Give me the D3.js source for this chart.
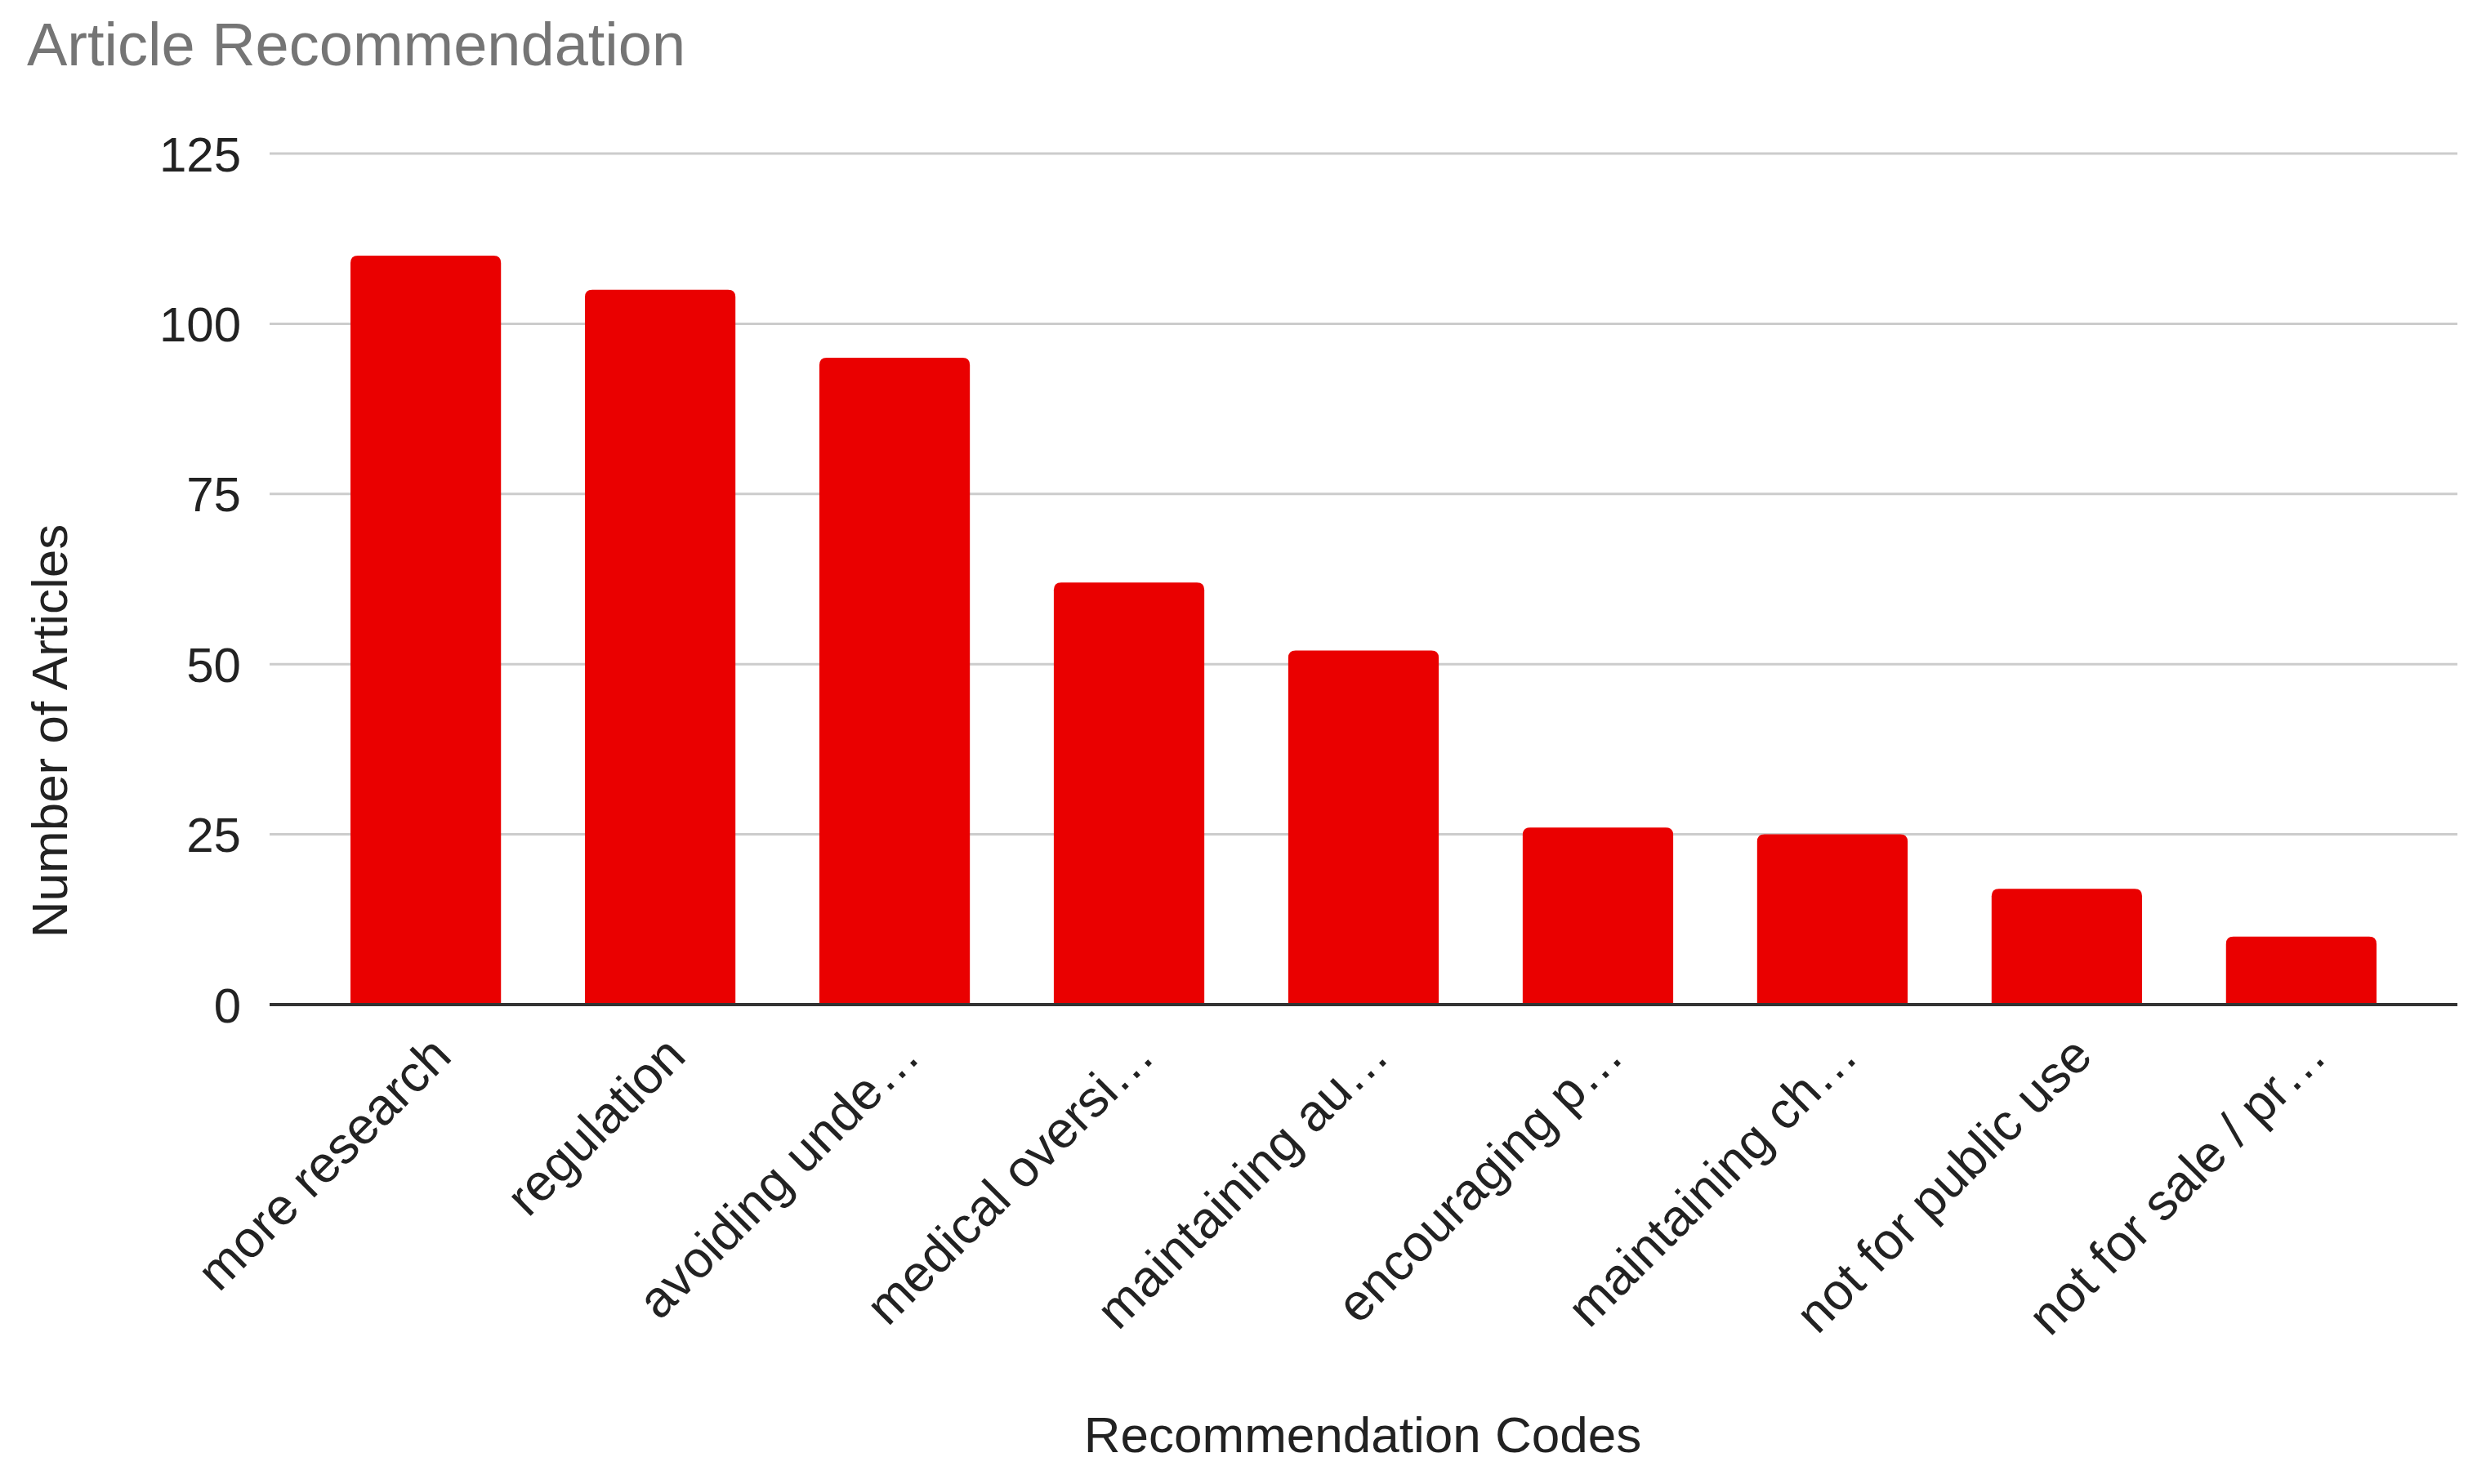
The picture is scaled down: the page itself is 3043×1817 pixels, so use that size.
<!DOCTYPE html>
<html><head><meta charset="utf-8">
<script src="https://cdn.jsdelivr.net/npm/d3@7"></script>
<style>html,body{margin:0;padding:0;background:#fff}svg{display:block}</style>
</head><body>
<script>
const categories = ["more research","regulation","avoiding unde…","medical oversi…","maintaining au…","encouraging p…","maintaining ch…","not for public use","not for sale / pr…"];
const values = [110,105,95,62,52,26,25,17,10];
const yTicks = [0,25,50,75,100,125];
const titleText = "Article Recommendation";
const xTitle = "Recommendation Codes";
const yTitle = "Number of Articles";

(function(){
const W = 3043, H = 1817;
const mLeft = 330, mRight = 3008, mTop = 188, mBottom = 1230;
const font = "'Liberation Sans', Arial, sans-serif";

const svg = d3.select("body").append("svg").attr("width", W).attr("height", H);

const x = d3.scaleBand().domain(categories).range([mLeft, mRight]).paddingInner(0.358).paddingOuter(0.345);
const y = d3.scaleLinear().domain([0,125]).range([mBottom, mTop]);

svg.append("text").attr("x", 33).attr("y", 80).attr("font-family", font).attr("font-size", 74)
  .attr("fill", "#757575").text(titleText);

svg.append("g").selectAll("line").data(yTicks.filter(d=>d>0)).join("line")
  .attr("x1", mLeft).attr("x2", mRight).attr("y1", d=>y(d)).attr("y2", d=>y(d))
  .attr("stroke", "#cccccc").attr("stroke-width", 3);

svg.append("g").selectAll("text").data(yTicks).join("text")
  .attr("x", 295).attr("y", d=>y(d)).attr("dy", "0.36em").attr("text-anchor", "end")
  .attr("font-family", font).attr("font-size", 60).attr("fill", "#222").text(d=>d);

const r = 9;
svg.append("g").selectAll("path").data(values).join("path")
  .attr("fill", "#ea0000")
  .attr("d", (d,i) => {
    const x0 = x(categories[i]), w = x.bandwidth(), y0 = y(d), yb = y(0);
    return `M${x0},${yb}V${y0+r}Q${x0},${y0} ${x0+r},${y0}H${x0+w-r}Q${x0+w},${y0} ${x0+w},${y0+r}V${yb}Z`;
  });

svg.append("line").attr("x1", mLeft).attr("x2", mRight).attr("y1", y(0)).attr("y2", y(0))
  .attr("stroke", "#333").attr("stroke-width", 4);

svg.append("g").selectAll("text").data(categories).join("text")
  .attr("transform", d => `translate(${x(d)+x.bandwidth()/2+18},${mBottom+50}) rotate(-45)`)
  .attr("text-anchor", "end").attr("dy", "0.36em")
  .attr("font-family", font).attr("font-size", 63).attr("fill", "#222").text(d=>d);

svg.append("text").attr("x", 1668).attr("y", 1778).attr("text-anchor", "middle")
  .attr("font-family", font).attr("font-size", 62).attr("fill", "#222").text(xTitle);
svg.append("text").attr("transform", "translate(60,895) rotate(-90)").attr("text-anchor", "middle")
  .attr("dy", "0.36em").attr("font-family", font).attr("font-size", 62).attr("fill", "#222").text(yTitle);
})();
</script>
</body></html>
